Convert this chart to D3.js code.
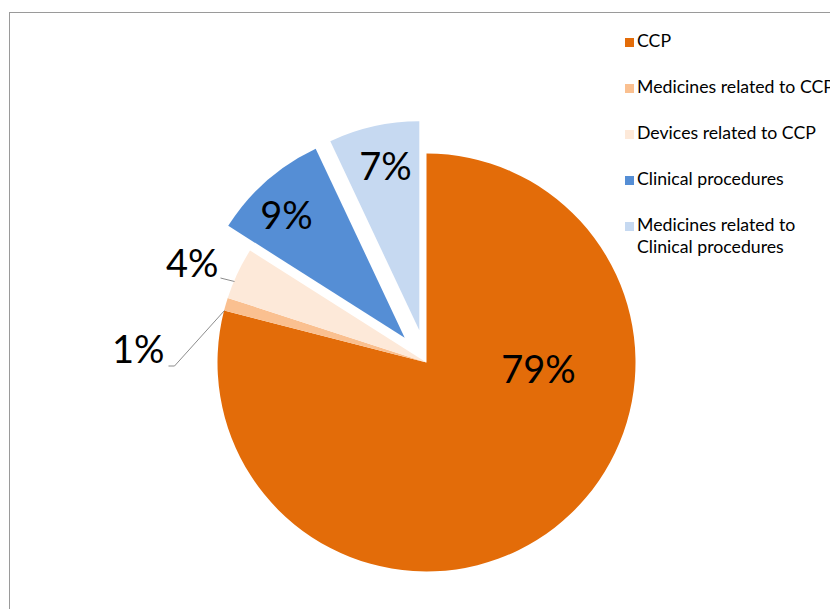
<!DOCTYPE html>
<html>
<head>
<meta charset="utf-8">
<script src="https://cdn.jsdelivr.net/npm/d3@7/dist/d3.min.js"></script>
<style>
  html, body { margin: 0; padding: 0; background: #ffffff; }
  svg { display: block; }
</style>
</head>
<body>
<script>
// Share of items by category
const categories = [
  "CCP",
  "Medicines related to CCP",
  "Devices related to CCP",
  "Clinical procedures",
  "Medicines related to Clinical procedures"
];
const values = [79, 1, 4, 9, 7];
const labels = ["79%", "1%", "4%", "9%", "7%"];
const exploded = [false, false, false, true, true];
const legendLines = [
  ["CCP"],
  ["Medicines related to CCP"],
  ["Devices related to CCP"],
  ["Clinical procedures"],
  ["Medicines related to", "Clinical procedures"]
];

const colors = ["#E36C09", "#FAC090", "#FDE9D9", "#558ED5", "#C6D9F1"];

const W = 830, H = 609;
const cx = 426.5, cy = 362.5, R = 209, explode = 33;

// Label anchors relative to the pie centre: [dx, dy, anchor, leader]
const labelLayout = [
  { dx: 112, dy: 20, anchor: "middle" },
  { dx: -262, dy: 0, anchor: "end", leader: [[-258, 3.5], [-252, 3.5], [-202, -52]] },
  { dx: -208, dy: -86, anchor: "end", leader: [[-206, -84.5], [-192, -81]] },
  { dx: -140, dy: -134, anchor: "middle" },
  { dx: -41, dy: -183, anchor: "middle" }
];

const svg = d3.select("body").append("svg")
  .attr("width", W).attr("height", H);

// Chart area frame
svg.append("rect")
  .attr("x", 9.5).attr("y", 12.5)
  .attr("width", 1000).attr("height", 1000)
  .attr("fill", "none").attr("stroke", "#9a9a9a").attr("stroke-width", 1);

const color = d3.scaleOrdinal().domain(categories).range(colors);

const pie = d3.pie().sort(null).value(d => d.value);
const arcs = pie(categories.map((c, i) => ({ name: c, value: values[i], i })));
const arc = d3.arc().innerRadius(0).outerRadius(R);

const g = svg.append("g").attr("transform", `translate(${cx},${cy})`);

g.selectAll("path.slice")
  .data(arcs)
  .join("path")
  .attr("class", "slice")
  .attr("d", arc)
  .attr("fill", d => color(d.data.name))
  .attr("transform", d => {
    if (!exploded[d.data.i]) return null;
    const mid = (d.startAngle + d.endAngle) / 2;
    return `translate(${explode * Math.sin(mid)},${-explode * Math.cos(mid)})`;
  });

// Leader lines for the small slices
const line = d3.line();
g.selectAll("path.leader")
  .data(labelLayout.filter(l => l.leader))
  .join("path")
  .attr("class", "leader")
  .attr("d", l => line(l.leader))
  .attr("fill", "none")
  .attr("stroke", "#7f7f7f")
  .attr("stroke-width", 0.9);

g.selectAll("text.value")
  .data(arcs)
  .join("text")
  .attr("class", "value")
  .attr("x", d => labelLayout[d.data.i].dx)
  .attr("y", d => labelLayout[d.data.i].dy)
  .attr("text-anchor", d => labelLayout[d.data.i].anchor)
  .attr("font-family", "Lato, 'Open Sans', sans-serif")
  .attr("font-size", 38)
  .attr("fill", "#000")
  .text(d => labels[d.data.i]);

// Legend
const legend = svg.append("g").attr("transform", "translate(625,0)");
const rowY = [47, 93, 139, 185, 231];
const items = legend.selectAll("g.item")
  .data(categories)
  .join("g")
  .attr("class", "item")
  .attr("transform", (d, i) => `translate(0,${rowY[i]})`);

items.append("rect")
  .attr("x", 0).attr("y", -9)
  .attr("width", 9).attr("height", 9)
  .attr("fill", d => color(d));

items.append("text")
  .attr("x", 12).attr("y", 0)
  .attr("font-family", "Lato, 'Open Sans', sans-serif")
  .attr("font-size", 17.7)
  .attr("fill", "#000")
  .selectAll("tspan")
  .data((d, i) => legendLines[i])
  .join("tspan")
  .attr("x", 12)
  .attr("dy", (d, j) => j === 0 ? 0 : 22)
  .text(d => d);
</script>
</body>
</html>
